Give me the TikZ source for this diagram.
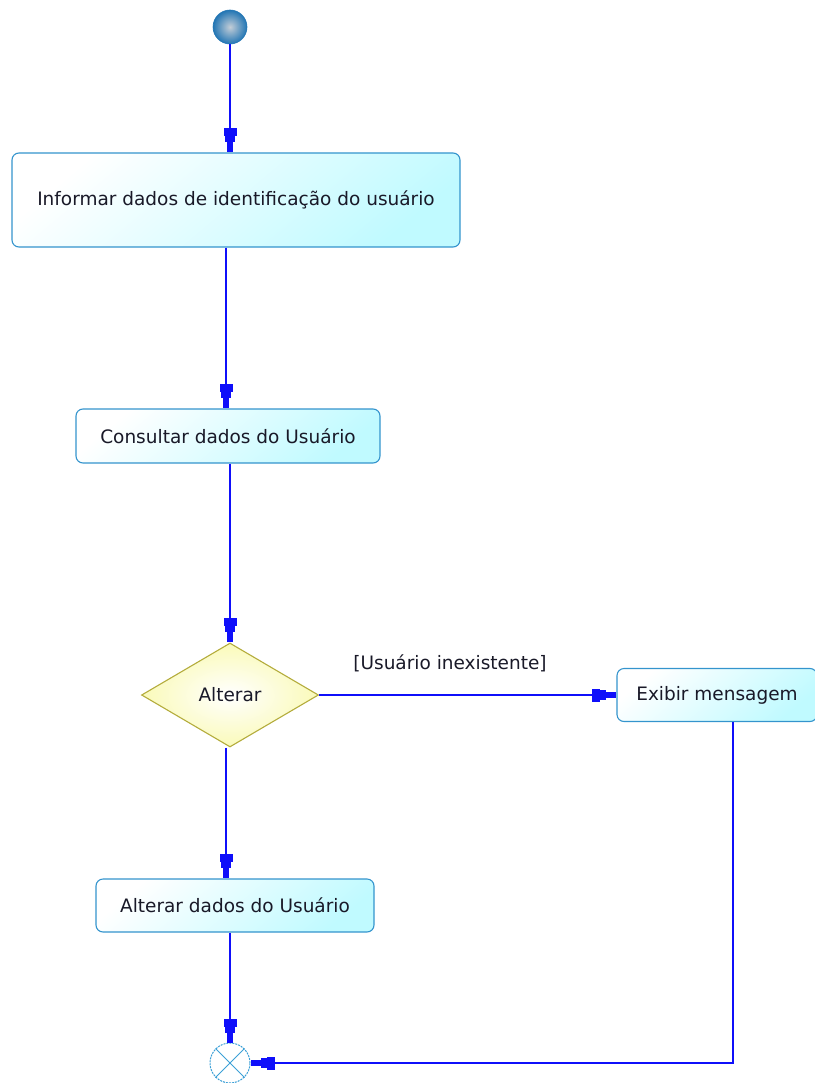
\documentclass[tikz,border=0pt]{standalone}
\usepackage{fontspec}
\setmainfont{DejaVu Sans}
\usetikzlibrary{shapes.geometric,arrows.meta}
\definecolor{linecol}{RGB}{15,15,250}
\definecolor{boxborder}{RGB}{52,148,205}
\definecolor{boxfill}{RGB}{192,250,255}
\definecolor{diaborder}{RGB}{180,172,60}
\definecolor{diafill}{RGB}{250,250,185}
\definecolor{startin}{RGB}{195,205,215}
\definecolor{startout}{RGB}{35,118,180}
\definecolor{endcol}{RGB}{60,160,215}
\definecolor{txt}{RGB}{25,25,40}
\tikzset{
  x=1pt, y=-1pt,
  every node/.style={font=\fontsize{18.5}{21}\selectfont, text=txt},
  actbox/.style={draw=boxborder, line width=1.1pt, rounded corners=7pt,
    top color=white, bottom color=boxfill, shading angle=40, inner sep=0pt},
  decision/.style={diamond, draw=diaborder, line width=1.1pt, inner sep=0pt,
    inner color=white, outer color=diafill, minimum width=177pt, minimum height=104pt},
  arr/.style={draw=linecol, line width=1.5pt,
    -{Rectangle[length=8pt,width=13pt,sep=0pt] Rectangle[length=6pt,width=10pt,sep=0pt] Rectangle[length=10pt,width=6pt,sep=0pt]}},
}
\begin{document}
\begin{tikzpicture}
\useasboundingbox (0,0) rectangle (814,1083);
\node[circle, minimum size=34pt, inner sep=0pt, draw=startout, line width=0.6pt,
  inner color=startin, outer color=startout] (start) at (230,27) {};
\node[actbox, minimum width=448pt, minimum height=94pt] (b1) at (236,200)
  {Informar dados de identificação do usuário};
\node[actbox, minimum width=304pt, minimum height=54pt] (b2) at (228,436)
  {Consultar dados do Usuário};
\node[decision] (dia) at (230,695) {Alterar};
\node[actbox, minimum width=200pt, minimum height=53pt] (b3) at (717,695)
  {Exibir mensagem};
\node[actbox, minimum width=278pt, minimum height=53pt] (b4) at (235,905.5)
  {Alterar dados do Usuário};
\node[circle, minimum size=40pt, inner sep=0pt, draw=endcol, line width=1pt,
  dash pattern=on 2pt off 1pt, fill=white] (end) at (230,1063) {};
\draw[endcol, line width=1pt] (end.45) -- (end.225) (end.135) -- (end.315);
\node (lbl) at (450,663) {[Usuário inexistente]};
\coordinate (cL) at (226,0);
\coordinate (cR) at (733,0);
\draw[arr] (start.south) -- (start.south |- b1.north);
\draw[arr] (b1.south -| cL) -- (b2.north -| cL);
\draw[arr] (b2.south -| dia.north) -- (dia.north);
\draw[arr] (dia.east) -- (b3.west);
\draw[arr] (dia.south -| cL) -- (b4.north -| cL);
\draw[arr] (b4.south -| end.north) -- (end.north);
\draw[arr] (b3.south -| cR) |- (end.east);
\end{tikzpicture}
\end{document}
